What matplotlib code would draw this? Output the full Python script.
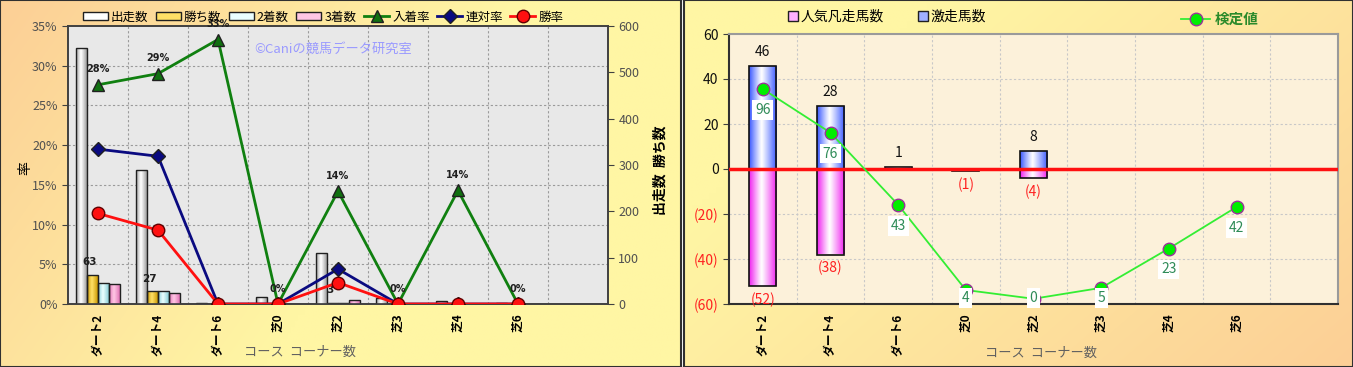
import numpy as np
import matplotlib.pyplot as plt
from matplotlib.colors import to_rgb
from matplotlib.lines import Line2D
from matplotlib.patches import Patch

plt.rcParams['font.family'] = ['Noto Sans CJK JP', 'DejaVu Sans']

# ---- data ----
cats = ['ダート2', 'ダート4', 'ダート6', '芝0', '芝2', '芝3', '芝4', '芝6']
starts = [553, 290, 3, 16, 111, 13, 7, 2]
wins = [63, 27, 0, 0, 3, 0, 0, 0]
seconds = [45, 27, 0, 0, 2, 0, 0, 0]
thirds = [44, 24, 1, 0, 8, 0, 1, 0]
place_rate = [27.6, 29.0, 33.3, 0, 14.2, 0, 14.3, 0]
quinella_rate = [19.5, 18.6, 0, 0, 4.4, 0, 0, 0]
win_rate = [11.4, 9.3, 0, 0, 2.7, 0, 0, 0]

hot_runs = [46, 28, 1, 0, 8, 0, 0, 0]          # 激走馬数
flop_runs = [-52, -38, 0, -1, -4, 0, 0, 0]     # 人気凡走馬数
test_value = [96, 76, 43, 4, 0, 5, 23, 42]     # 検定値

W, H = 1353, 367
fig = plt.figure(figsize=(W / 100, H / 100), dpi=100)


def fx(px):
    return px / W


def fy(py):
    return 1 - py / H


def panel_bg(rect, c_a, c_b, wu, wv, off):
    ax = fig.add_axes(rect, zorder=-10)
    u = np.linspace(0, 1, 200)[None, :]
    v = np.linspace(0, 1, 60)[:, None]
    t = np.clip(wu * u + wv * v + off, 0, 1)[:, :, None]
    img = np.array(to_rgb(c_a)) * (1 - t) + np.array(to_rgb(c_b)) * t
    ax.imshow(img, extent=(0, 1, 0, 1), aspect='auto', interpolation='bilinear')
    ax.set_xticks([])
    ax.set_yticks([])
    for s in ax.spines.values():
        s.set_color('#303030')
        s.set_linewidth(1.5)
    return ax


def shade_bars(ax, bars, edge, mid='white', peak=0.45):
    edge = np.array(to_rgb(edge))
    mid = np.array(to_rgb(mid))
    t = np.linspace(0, 1, 64)
    d = np.where(t < peak, (peak - t) / peak, (t - peak) / (1 - peak)) ** 1.1
    img = (mid * (1 - d[:, None]) + edge * d[:, None])[None, :, :]
    for b in bars:
        h = b.get_height()
        if h == 0:
            continue
        x, y, w = b.get_x(), b.get_y(), b.get_width()
        im = ax.imshow(img, extent=(x, x + w, y, y + h), aspect='auto',
                       interpolation='bilinear', zorder=b.get_zorder())
        im.set_clip_path(b)
        b.set_facecolor('none')
        b.set_zorder(b.get_zorder() + 0.1)


orange = '#fccf96'
yellow = '#fff6a4'
panel_bg([0, 0, fx(681), 1], orange, yellow, 1.3, 0.5, 0.0)
panel_bg([fx(684), 0, 1 - fx(684), 1], yellow, orange, 0.8, 0.5, -0.3)

x = np.arange(len(cats))

# ================= left chart =================
axc = fig.add_axes([fx(68), fy(304), fx(540), 278 / H])
axc.set_facecolor('#e8e8e8')
bw = 0.183
bar_specs = [
    (starts, '#9c9c9c', 'white', '出走数'),
    (wins, '#c99700', '#ffe066', '勝ち数'),
    (seconds, '#86cdd6', '#eaffff', '2着数'),
    (thirds, '#e070b4', '#ffc6e4', '3着数'),
]
handles = []
for i, (vals, ec, mc, lab) in enumerate(bar_specs):
    bars = axc.bar(x + (i - 1.5) * bw, vals, bw, color=mc,
                   edgecolor='#202020', linewidth=1, zorder=3)
    shade_bars(axc, bars, ec, mc)
    handles.append(Patch(facecolor=mc, edgecolor='#202020', label=lab))

for xi, v in zip(x, wins):
    if v:
        axc.annotate(str(v), (xi - 0.5 * bw, v), xytext=(-2, 9),
                     textcoords='offset points', ha='center', va='center',
                     fontsize=7.5, fontweight='bold', color='#202020',
                     family=['DejaVu Sans'], zorder=6)

for p in range(5, 35, 5):
    axc.axhline(p * 600 / 35, color='#9a9a9a', lw=0.8, ls=(0, (2, 2)), zorder=1)
for b in np.arange(0.5, 8.5, 1):
    axc.axvline(b, color='#9a9a9a', lw=0.8, ls=(0, (2, 2)), zorder=1)

axc.set_xlim(-0.5, 8.5)
axc.set_ylim(0, 600)
axc.set_xticks(x)
axc.set_xticklabels(cats, rotation=90, fontsize=8.5, fontweight='bold')
axc.tick_params(axis='x', length=0, pad=7)

axr = axc.twinx()
axc.yaxis.tick_right()
axr.yaxis.tick_left()
axc.set_yticks(range(0, 601, 100))
axc.tick_params(axis='y', labelsize=9, labelcolor='#505050', color='#404040',
                length=4, direction='out')
axr.set_ylim(0, 35)
axr.set_yticks(range(0, 36, 5))
axr.set_yticklabels([f'{p}%' for p in range(0, 36, 5)])
axr.tick_params(axis='y', labelsize=9, labelcolor='#505050', color='#404040',
                length=4, direction='out')
for ax_ in (axc, axr):
    for s in ax_.spines.values():
        s.set_color('#404040')
        s.set_linewidth(1.2)

l1, = axr.plot(x, place_rate, color='#108010', lw=2, marker='^', ms=8,
               mfc='#107010', mec='#202020', zorder=4, label='入着率')
l2, = axr.plot(x, quinella_rate, color='#0a0a80', lw=2, marker='D', ms=7,
               mfc='#0a0a80', mec='#202020', zorder=4, label='連対率')
l3, = axr.plot(x, win_rate, color='#ff1010', lw=2, marker='o', ms=9,
               mfc='#ff1010', mec='#600000', zorder=5, label='勝率')
for xi, v in zip(x, place_rate):
    axr.annotate(f'{round(v)}%', (xi, v), xytext=(0, 11), textcoords='offset points',
                 ha='center', va='center', fontsize=7, fontweight='bold',
                 color='#202020', family=['DejaVu Sans'], zorder=6)

axr.text(0.345, 0.915, '©Caniの競馬データ研究室', transform=axr.transAxes,
         fontsize=9.5, color='#9a9aff', ha='left', va='center')

fig.legend(handles + [l1, l2, l3], [h.get_label() for h in handles + [l1, l2, l3]],
           loc='center', bbox_to_anchor=(fx(323), fy(17)), ncol=7, frameon=False,
           fontsize=9, handlelength=2.0, handleheight=0.55, columnspacing=0.6,
           handletextpad=0.25, borderpad=0)

fig.text(fx(25), fy(168), '率', rotation=90, ha='center', va='center', fontsize=10)
fig.text(fx(660), fy(170), '出走数  勝ち数', rotation=90, ha='center', va='center',
         fontsize=10, fontweight='bold')
fig.text(fx(300), fy(352), 'コース  コーナー数', ha='center', va='center',
         fontsize=9.5, color='#606060')

# ================= right chart =================
ax2 = fig.add_axes([fx(729), fy(304), fx(609), 270 / H])
ax2.set_facecolor('#fcf1da')
bw2 = 0.4
b_hot = ax2.bar(x, hot_runs, bw2, color='white', edgecolor='#101010',
                linewidth=1.2, zorder=3)
shade_bars(ax2, b_hot, '#3a58ff')
b_flop = ax2.bar(x, flop_runs, bw2, color='white', edgecolor='#101010',
                 linewidth=1.2, zorder=3)
shade_bars(ax2, b_flop, '#f020f0')
ax2.axhline(0, color='#ff1010', lw=2.5, zorder=5)

for xi, v in zip(x, hot_runs):
    if v:
        ax2.annotate(str(v), (xi, v), xytext=(0, 10), textcoords='offset points',
                     ha='center', va='center', fontsize=10, color='#101010')
for xi, v in zip(x, flop_runs):
    if v:
        ax2.annotate(f'({-v})', (xi, v), xytext=(0, -10), textcoords='offset points',
                     ha='center', va='center', fontsize=10, color='#ff2020')

for g in range(-40, 60, 20):
    ax2.axhline(g, color='#c8c8c8', lw=0.8, ls=(0, (2, 2)), zorder=1)
for b in np.arange(0.5, 8.5, 1):
    ax2.axvline(b, color='#c8c8c8', lw=0.8, ls=(0, (2, 2)), zorder=1)

ax2.set_xlim(-0.5, 8.5)
ax2.set_ylim(-60, 60)
yt = list(range(-60, 61, 20))
ax2.set_yticks(yt)
ax2.set_yticklabels([str(v) if v >= 0 else f'({-v})' for v in yt])
for lab, v in zip(ax2.get_yticklabels(), yt):
    lab.set_color('#ff2020' if v < 0 else '#101010')
ax2.tick_params(axis='y', labelsize=10, length=4, direction='out', color='#404040')
ax2.set_xticks(x)
ax2.set_xticklabels(cats, rotation=90, fontsize=8.5, fontweight='bold')
ax2.tick_params(axis='x', length=0, pad=7)
for side, c in [('left', '#303030'), ('bottom', '#303030'),
                ('top', '#9a9a9a'), ('right', '#9a9a9a')]:
    ax2.spines[side].set_color(c)
    ax2.spines[side].set_linewidth(1.5)

ax3 = ax2.twinx()
ax3.set_ylim(-2.4, 121.2)
ax3.set_yticks([])
for s in ax3.spines.values():
    s.set_visible(False)
l4, = ax3.plot(x, test_value, color='#33ee33', lw=1.3, marker='o', ms=9,
               mfc='#00ee00', mec='#993399', mew=1, zorder=6, label='検定値')
for xi, v in zip(x, test_value):
    ax3.text(xi, max(v - 9.6, 0.3), str(v), ha='center', va='center',
             fontsize=10, color='#2e8b57', zorder=7,
             bbox=dict(boxstyle='square,pad=0.2', fc='white', ec='none'))

h_flop = Line2D([], [], ls='none', marker='s', ms=7, mfc='#ffb0ff', mec='#202020')
h_hot = Line2D([], [], ls='none', marker='s', ms=7, mfc='#a0b0ff', mec='#202020')
fig.legend([h_flop, h_hot], ['人気凡走馬数', '激走馬数'], loc='center',
           bbox_to_anchor=(fx(887), fy(17)), ncol=2, frameon=False, fontsize=10,
           handlelength=0.7, columnspacing=2.5, handletextpad=0.2, borderpad=0)
lg = fig.legend([l4], ['検定値'], loc='center', bbox_to_anchor=(fx(1220), fy(19)),
                frameon=False, fontsize=10.5, handlelength=2.0, handletextpad=0.3,
                borderpad=0)
for t in lg.get_texts():
    t.set_color('#2a8a2a')
    t.set_fontweight('bold')

fig.text(fx(1041), fy(353), 'コース  コーナー数', ha='center', va='center',
         fontsize=9.5, color='#606060')

fig.savefig('out.png', dpi=100)
